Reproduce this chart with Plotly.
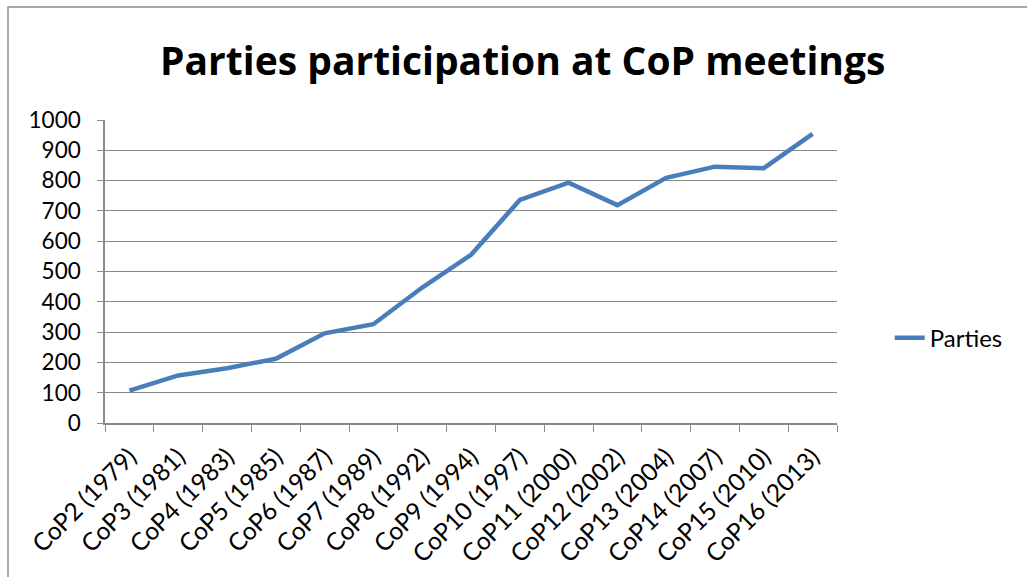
import plotly.graph_objects as go

# CoP meetings and number of participating Parties
meetings = [
    "CoP2 (1979)", "CoP3 (1981)", "CoP4 (1983)", "CoP5 (1985)", "CoP6 (1987)",
    "CoP7 (1989)", "CoP8 (1992)", "CoP9 (1994)", "CoP10 (1997)", "CoP11 (2000)",
    "CoP12 (2002)", "CoP13 (2004)", "CoP14 (2007)", "CoP15 (2010)", "CoP16 (2013)",
]
parties = [107, 157, 181, 212, 296, 326, 447, 555, 736, 793, 719, 809, 846, 841, 954]
y_ticks = [0, 100, 200, 300, 400, 500, 600, 700, 800, 900, 1000]

FONT = "Lato, Calibri, Carlito, sans-serif"
TITLE_FONT = "'Open Sans', Calibri, sans-serif"
GRID = "#8a8a8a"

fig = go.Figure()
fig.add_trace(go.Scatter(
    x=meetings, y=parties, mode="lines", name="Parties",
    line=dict(color="#4A7EBB", width=4.5),
))

fig.update_layout(
    width=1027, height=577,
    margin=dict(l=105, r=190, t=120, b=154),
    paper_bgcolor="white", plot_bgcolor="white",
    font=dict(family=FONT, size=22.5, color="black"),
    title=dict(
        text="<b>Parties participation at CoP meetings</b>",
        font=dict(family=TITLE_FONT, size=39, color="black"),
        x=0.509, xanchor="center", y=0.893, yanchor="middle",
    ),
    showlegend=True,
    legend=dict(
        x=1.072, xanchor="left", y=0.28, yanchor="middle",
        font=dict(family=FONT, size=24, color="black"),
        bgcolor="rgba(0,0,0,0)", itemwidth=30,
    ),
    shapes=[dict(
        type="rect", xref="paper", yref="paper",
        x0=-97 / 732, x1=(1040 - 105) / 732,
        y0=-170 / 303, y1=(423 - 7) / 303,
        line=dict(color="#8c8c8c", width=1.5), fillcolor="rgba(0,0,0,0)",
        layer="below",
    )],
)

fig.update_xaxes(
    type="category", range=[-0.5, len(meetings) - 0.5],
    tickangle=-45, tickson="boundaries", ticks="outside", ticklen=7,
    tickcolor=GRID, showline=True, linecolor=GRID, linewidth=1.5,
    showgrid=False, ticklabelstandoff=8, automargin=False,
    tickfont=dict(family=FONT, size=24.5, color="black"),
)
fig.update_yaxes(
    range=[0, 1000], tickvals=y_ticks, ticks="outside", ticklen=6,
    tickcolor=GRID, showline=True, linecolor=GRID, linewidth=1.5,
    showgrid=True, gridcolor=GRID, gridwidth=1.2, zeroline=False,
    ticklabelstandoff=12, automargin=False,
    tickfont=dict(family=FONT, size=22.5, color="black"),
)

fig.write_html("out.html")
